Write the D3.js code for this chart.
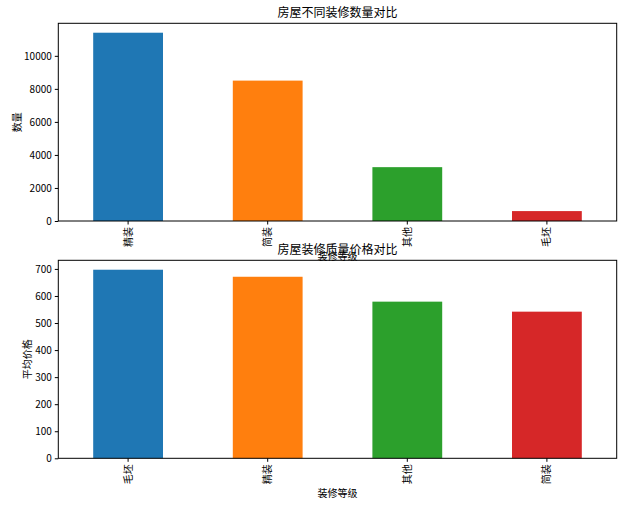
<!DOCTYPE html>
<html>
<head>
<meta charset="utf-8">
<style>
body { margin: 0; background: #fff; }
text { font-family: "Noto Sans CJK SC", "DejaVu Sans", sans-serif; fill: #000; }
</style>
</head>
<body>
<svg width="639" height="506"></svg>
<script src="https://d3js.org/d3.v7.min.js"></script>
<script>
// top chart: count per decoration type
var countCats = ['精装', '简装', '其他', '毛坯']
var countVals = [11400, 8500, 3260, 600]
var countTicks = [0, 2000, 4000, 6000, 8000, 10000]

// bottom chart: mean price per decoration type
var priceCats = ['毛坯', '精装', '其他', '简装']
var priceVals = [697, 671, 579, 542]
var priceTicks = [0, 100, 200, 300, 400, 500, 600, 700]

var colors = ['#1f77b4', '#ff7f0e', '#2ca02c', '#d62728']

var svg = d3.select('svg')
var left = 58.3, right = 616.7

function drawPanel(cats, vals, ticks, top, bottom, title, ylabel, ylabelX) {
	var x = d3.scaleBand()
		.domain(cats)
		.range([left, right])
		.paddingInner(0.5)
		.paddingOuter(0.25)

	var y = d3.scaleLinear()
		.domain([0, d3.max(vals) * 1.05])
		.range([bottom, top])

	var g = svg.append('g')

	g.selectAll('rect')
		.data(vals)
		.enter().append('rect')
		.attr('x', (d, i) => x(cats[i]))
		.attr('width', x.bandwidth())
		.attr('y', d => y(d))
		.attr('height', d => bottom - y(d))
		.style('fill', (d, i) => colors[i])

	// y axis
	var ya = g.append('g')
		.attr('transform', 'translate(' + left + ',0)')
		.call(d3.axisLeft(y).tickValues(ticks).tickFormat(d3.format('d')).tickSize(3.5).tickPadding(3))
	ya.select('.domain').remove()
	ya.selectAll('text').style('font-size', '10px')

	// x axis with vertical labels
	var xa = g.append('g')
		.attr('transform', 'translate(0,' + bottom + ')')
		.call(d3.axisBottom(x).tickSize(3.5))
	xa.select('.domain').remove()
	xa.selectAll('text')
		.style('font-size', '10px')
		.attr('transform', 'rotate(-90)')
		.attr('x', -6)
		.attr('y', 0)
		.attr('dy', '0.35em')
		.style('text-anchor', 'end')

	// frame
	g.append('rect')
		.attr('x', left).attr('y', top)
		.attr('width', right - left).attr('height', bottom - top)
		.style('fill', 'none').style('stroke', '#000').style('stroke-width', 1)

	g.append('text')
		.attr('transform', 'translate(' + ylabelX + ',' + (top + bottom) / 2 + ') rotate(-90)')
		.style('text-anchor', 'middle')
		.style('font-size', '10px')
		.text(ylabel)

	g.append('text')
		.attr('x', (left + right) / 2)
		.attr('y', bottom + 39)
		.style('text-anchor', 'middle')
		.style('font-size', '10px')
		.text('装修等级')

	g.append('text')
		.attr('x', (left + right) / 2)
		.attr('y', top - 6)
		.style('text-anchor', 'middle')
		.style('font-size', '12px')
		.text(title)
}

drawPanel(countCats, countVals, countTicks, 23.3, 221, '房屋不同装修数量对比', '数量', 21)
drawPanel(priceCats, priceVals, priceTicks, 260.3, 458.3, '房屋装修质量价格对比', '平均价格', 31)
</script>
</body>
</html>
